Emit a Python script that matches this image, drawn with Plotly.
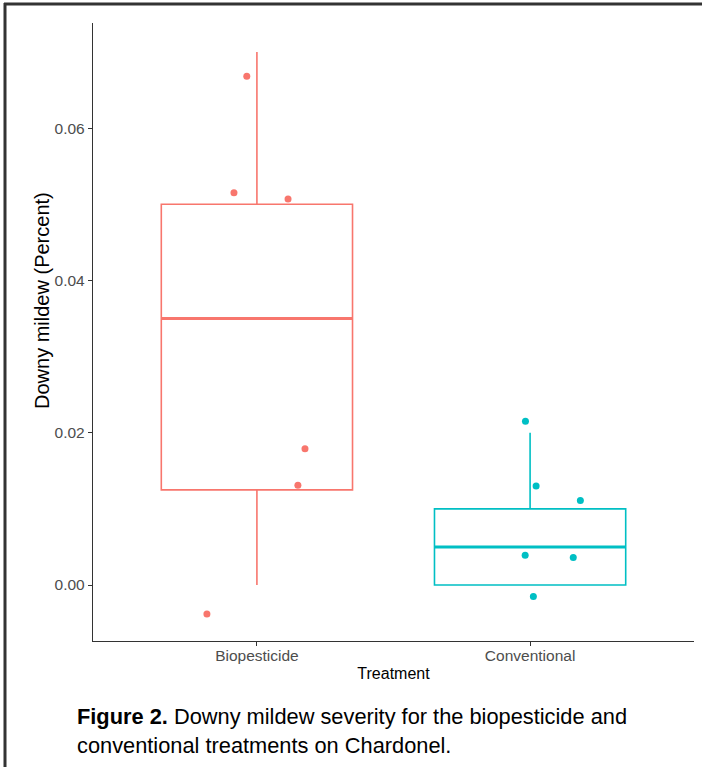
import plotly.graph_objects as go

# ---- data ----
categories = ["Biopesticide", "Conventional"]
positions = [1, 2]
q1 = [0.0125, 0.0]
medians = [0.035, 0.005]
q3 = [0.05, 0.01]
lower_whisker = [0.0, 0.0]
upper_whisker = [0.07, 0.02]

bio_x = [0.963, 0.916, 1.114, 1.176, 1.150, 0.817]
bio_y = [0.0668, 0.0515, 0.0507, 0.0179, 0.0131, -0.0038]
conv_x = [1.983, 2.022, 2.184, 1.982, 2.158, 2.012]
conv_y = [0.0215, 0.0130, 0.0111, 0.0039, 0.0036, -0.0015]

y_ticks = [0.0, 0.02, 0.04, 0.06]
y_ticklabels = ["0.00", "0.02", "0.04", "0.06"]

colors = ["#F8766D", "#00BFC4"]
box_width = 0.7

W, H = 702, 767
L, R, T, B = 93, 8, 23, 126
pw, ph = W - L - R, H - T - B

fig = go.Figure()
points = [(bio_x, bio_y), (conv_x, conv_y)]
for i in range(2):
    fig.add_trace(go.Box(
        x=[positions[i]], q1=[q1[i]], median=[medians[i]], q3=[q3[i]],
        lowerfence=[lower_whisker[i]], upperfence=[upper_whisker[i]],
        width=box_width, line=dict(color=colors[i], width=1.6),
        fillcolor="rgba(255,255,255,0)", boxpoints=False, whiskerwidth=0,
        showlegend=False, hoverinfo="skip"))
    fig.add_trace(go.Scatter(
        x=[positions[i] - box_width / 2, positions[i] + box_width / 2],
        y=[medians[i], medians[i]], mode="lines",
        line=dict(color=colors[i], width=3), showlegend=False, hoverinfo="skip"))
    fig.add_trace(go.Scatter(
        x=points[i][0], y=points[i][1], mode="markers",
        marker=dict(color=colors[i], size=7), showlegend=False))

font_family = "Liberation Sans, Arial, sans-serif"
fig.update_layout(
    width=W, height=H, margin=dict(l=L, r=R, t=T, b=B),
    paper_bgcolor="white", plot_bgcolor="white",
    font=dict(family=font_family, color="#000000"),
    xaxis=dict(range=[0.4, 2.6], tickvals=positions, ticktext=categories,
               showgrid=False, zeroline=False, showline=True, linecolor="#333333",
               linewidth=1.4, ticks="outside", ticklen=4, tickcolor="#333333",
               tickfont=dict(size=15.5, color="#4D4D4D"), ticklabelstandoff=-4,
               title=dict(text="Treatment", font=dict(size=16, color="#000000"), standoff=5)),
    yaxis=dict(range=[-0.00735, 0.0738], tickvals=y_ticks, ticktext=y_ticklabels,
               showgrid=False, zeroline=False, showline=True, linecolor="#333333",
               linewidth=1.4, ticks="outside", ticklen=4, tickcolor="#333333",
               tickfont=dict(size=15.5, color="#4D4D4D")),
)

# y axis title (placed as in the reference)
fig.add_annotation(xref="paper", yref="paper", x=(42 - L) / pw, y=(H - B - 301) / ph,
                   xanchor="center", yanchor="middle", showarrow=False, textangle=-90,
                   text="Downy mildew (Percent)",
                   font=dict(size=20, color="#000000", family=font_family))

# frame border (top and left)
fig.add_shape(type="line", xref="paper", yref="paper",
              x0=(4 - L) / pw, x1=(W + 5 - L) / pw, y0=(H - B - 4) / ph, y1=(H - B - 4) / ph,
              line=dict(color="#333333", width=3))
fig.add_shape(type="line", xref="paper", yref="paper",
              x0=(5 - L) / pw, x1=(5 - L) / pw, y0=(H - B - 3) / ph, y1=(H - B - H - 5) / ph,
              line=dict(color="#333333", width=3))

cap_x = (75 - L) / pw
fig.add_annotation(xref="paper", yref="paper", x=cap_x, y=(H - B - 716) / ph,
                   xanchor="left", yanchor="middle", showarrow=False,
                   text="<b>Figure 2.</b> Downy mildew severity for the biopesticide and",
                   font=dict(size=21.8, color="#000000", family=font_family))
fig.add_annotation(xref="paper", yref="paper", x=cap_x, y=(H - B - 745) / ph,
                   xanchor="left", yanchor="middle", showarrow=False,
                   text="conventional treatments on Chardonel.",
                   font=dict(size=21.8, color="#000000", family=font_family))

fig.write_html("out.html", config={"displayModeBar": False},
               post_script="document.body.style.margin='0';document.body.style.overflow='hidden';")
